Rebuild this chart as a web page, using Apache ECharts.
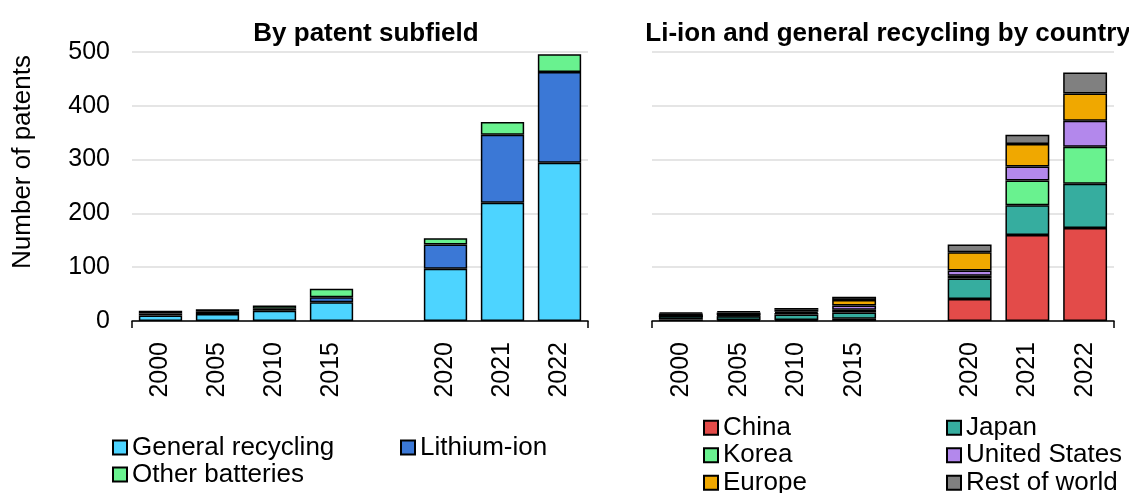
<!DOCTYPE html>
<html>
<head>
<meta charset="utf-8">
<script src="https://cdn.jsdelivr.net/npm/echarts@6/dist/echarts.min.js"></script>
<style>
  html, body { margin: 0; padding: 0; background: #fff; }
  #chart { width: 1129px; height: 493px; }
</style>
</head>
<body>
<div id="chart"></div>
<script>
// Year categories; the empty slot separates the early years from the recent ones
const years = ['2000', '2005', '2010', '2015', '', '2020', '2021', '2022'];
const yTicks = [0, 100, 200, 300, 400, 500];

// Patents by subfield
const generalRecycling = [10, 13, 19, 35, '-', 97, 220, 294];
const lithiumIon       = [4, 4, 4, 9, '-', 45, 126, 169];
const otherBatteries   = [5, 5, 6, 16, '-', 12, 24, 33];

// Li-ion and general recycling patents by country
const china        = [3, 2, 2, 4, '-', 41, 160, 173];
const japan        = [6, 7, 10, 12, '-', 38, 55, 82];
const korea        = [0, 1, 3, 5, '-', 5, 46, 69];
const unitedStates = [0, 1, 2, 8, '-', 10, 26, 48];
const europe       = [5, 5, 4, 10, '-', 34, 42, 51];
const restOfWorld  = [2, 2, 3, 6, '-', 14, 17, 39];

const FONT = 'Liberation Sans, Arial, sans-serif';
const TXT = 25;
const LEG = 26;

const leftSeries = [
  { name: 'General recycling', data: generalRecycling, color: '#4dd4ff' },
  { name: 'Lithium-ion', data: lithiumIon, color: '#3b78d6' },
  { name: 'Other batteries', data: otherBatteries, color: '#69f28f' }
];
const rightSeries = [
  { name: 'China', data: china, color: '#e34b49' },
  { name: 'Japan', data: japan, color: '#36ad9f' },
  { name: 'Korea', data: korea, color: '#69f28f' },
  { name: 'United States', data: unitedStates, color: '#b388ec' },
  { name: 'Europe', data: europe, color: '#f0a800' },
  { name: 'Rest of world', data: restOfWorld, color: '#808080' }
];

function bars(list, axisIndex, stack) {
  return list.map(s => ({
    type: 'bar',
    name: s.name,
    stack: stack,
    xAxisIndex: axisIndex,
    yAxisIndex: axisIndex,
    data: s.data,
    barCategoryGap: '24%',
    itemStyle: { color: s.color, borderColor: '#000', borderWidth: 1.5 },
    emphasis: { disabled: true }
  }));
}

function xAxis(gridIndex) {
  return {
    type: 'category',
    gridIndex: gridIndex,
    data: years,
    axisLine: { show: true, lineStyle: { color: '#000', width: 1.5 } },
    axisTick: { show: true, length: 7, interval: (i) => i === 0, lineStyle: { color: '#000', width: 1.5 } },
    axisLabel: { rotate: 90, margin: 21, color: '#000', fontSize: TXT, fontFamily: FONT, interval: 0 }
  };
}

function yAxis(gridIndex, showLabels) {
  return {
    type: 'value',
    gridIndex: gridIndex,
    min: yTicks[0],
    max: yTicks[yTicks.length - 1],
    interval: yTicks[1] - yTicks[0],
    axisLine: { show: false },
    axisTick: { show: false },
    axisLabel: { show: showLabels, color: '#000', fontSize: TXT, fontFamily: FONT, margin: 22 },
    splitLine: { show: true, lineStyle: { color: '#dcdcdc', width: 1.5 } }
  };
}

function legend(names, left, top, rowHeight) {
  return {
    data: names,
    orient: 'vertical',
    left: left,
    top: top,
    height: 120,
    padding: 0,
    itemGap: 0,
    itemWidth: 14,
    itemHeight: 14,
    icon: 'rect',
    selectedMode: false,
    textStyle: { color: '#000', fontSize: LEG, fontFamily: FONT, lineHeight: rowHeight }
  };
}

const chart = echarts.init(document.getElementById('chart'), null, { renderer: 'canvas' });
chart.setOption({
  animation: false,
  backgroundColor: '#fff',
  title: [
    { text: 'By patent subfield', left: 361, top: 16, textAlign: 'center',
      textStyle: { fontSize: 26, fontWeight: 'bold', fontFamily: FONT, color: '#000' } },
    { text: 'Li-ion and general recycling by country', left: 883, top: 16, textAlign: 'center',
      textStyle: { fontSize: 26, fontWeight: 'bold', fontFamily: FONT, color: '#000' } }
  ],
  grid: [
    { left: 132, right: 541, top: 52, bottom: 172 },
    { left: 652, right: 15, top: 52, bottom: 172 }
  ],
  xAxis: [xAxis(0), xAxis(1)],
  yAxis: [yAxis(0, true), yAxis(1, false)],
  legend: [
    legend(['General recycling', 'Other batteries'], 112, 434, 27),
    legend(['Lithium-ion'], 400, 434, 27),
    legend(['China', 'Korea', 'Europe'], 703, 414, 27.5),
    legend(['Japan', 'United States', 'Rest of world'], 946, 414, 27.5)
  ],
  graphic: [
    { type: 'text', x: 23, y: 162, rotation: Math.PI / 2,
      style: { text: 'Number of patents', fontSize: 26, fontFamily: FONT, fill: '#000',
               align: 'center', verticalAlign: 'middle' } }
  ],
  series: [...bars(leftSeries, 0, 'subfield'), ...bars(rightSeries, 1, 'country')]
});
</script>
</body>
</html>
